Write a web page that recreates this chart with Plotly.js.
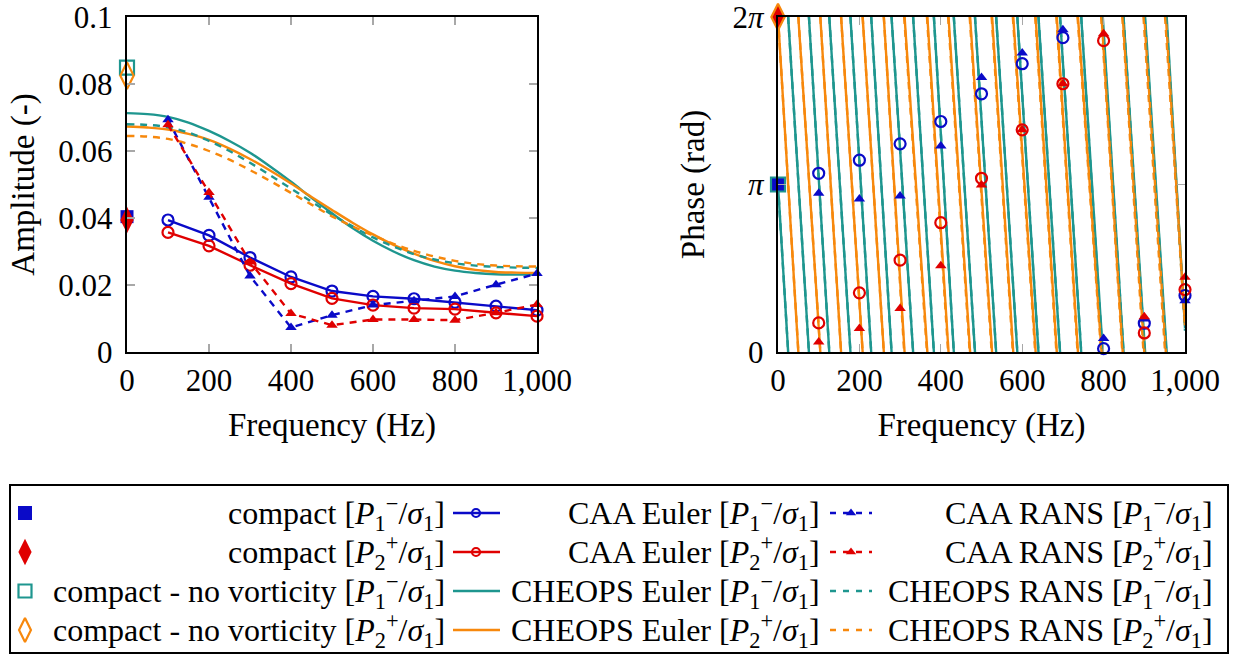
<!DOCTYPE html>
<html>
<head>
<meta charset="utf-8">
<script src="https://cdn.plot.ly/plotly-3.0.1.min.js"></script>
<style>
html,body{margin:0;padding:0;background:#fff;}
#plot{width:1234px;height:656px;}
</style>
</head>
<body>
<div id="plot"></div>
<script>
const TWO_PI = 2 * Math.PI;

// ---------- data ----------
const freqCompact = [0];
const ampCompactP1 = [0.0404];
const ampCompactP2 = [0.0394];
const ampNoVortP1 = [0.0849];
const ampNoVortP2 = [0.0825];
const phaseCompactP1 = [Math.PI];
const phaseCompactP2 = [TWO_PI];
const phaseNoVortP1 = [Math.PI];
const phaseNoVortP2 = [TWO_PI];

const freqCAA = [100, 200, 300, 400, 500, 600, 700, 800, 900, 1000];
const ampCAAEulerP1 = [0.0394, 0.0348, 0.0282, 0.0224, 0.0182, 0.0166, 0.0159, 0.0148, 0.0137, 0.0125];
const ampCAAEulerP2 = [0.0357, 0.0317, 0.0259, 0.0204, 0.0160, 0.0140, 0.0131, 0.0128, 0.0117, 0.0107];
const ampCAARansP1 = [0.0693, 0.0462, 0.0227, 0.0073, 0.0110, 0.0140, 0.0153, 0.0166, 0.0201, 0.0234];
const ampCAARansP2 = [0.0678, 0.0476, 0.0269, 0.0115, 0.0080, 0.0097, 0.0097, 0.0095, 0.0117, 0.0142];

const phaseCAAEulerP1 = [3.352, 3.597, 3.904, 4.323, 4.843, 5.407, 5.895, 0.063, 0.54, 1.06];
const phaseCAARansP1 = [2.976, 2.870, 2.926, 3.866, 5.150, 5.608, 6.046, 0.251, 0.62, 0.96];
const phaseCAAEulerP2 = [0.545, 1.109, 1.723, 2.425, 3.258, 4.167, 5.031, 5.840, 0.357, 1.17];
const phaseCAARansP2 = [0.188, 0.439, 0.815, 1.617, 3.133, 4.167, 5.031, 5.970, 0.660, 1.40];

const freqCHEOPS = [0, 50, 100, 150, 200, 250, 300, 350, 400, 450, 500, 550, 600, 650, 700, 750, 800, 850, 900, 950, 1000];
const ampCheopsEulerP1 = [0.0713, 0.0710, 0.0702, 0.0685, 0.0660, 0.0630, 0.0595, 0.0553, 0.0508, 0.0460, 0.0414, 0.0370, 0.0332, 0.0300, 0.0274, 0.0255, 0.0243, 0.0236, 0.0232, 0.0231, 0.0231];
const ampCheopsEulerP2 = [0.0673, 0.0670, 0.0664, 0.0651, 0.0633, 0.0607, 0.0576, 0.0541, 0.0503, 0.0463, 0.0424, 0.0386, 0.0351, 0.0320, 0.0294, 0.0272, 0.0256, 0.0245, 0.0239, 0.0237, 0.0236];
const ampCheopsRansP1 = [0.0680, 0.0678, 0.0671, 0.0655, 0.0630, 0.0600, 0.0565, 0.0527, 0.0488, 0.0449, 0.0410, 0.0375, 0.0342, 0.0315, 0.0292, 0.0276, 0.0265, 0.0258, 0.0254, 0.0252, 0.0251];
const ampCheopsRansP2 = [0.0645, 0.0643, 0.0636, 0.0621, 0.0600, 0.0574, 0.0543, 0.0510, 0.0475, 0.0440, 0.0405, 0.0375, 0.0348, 0.0323, 0.0302, 0.0285, 0.0272, 0.0263, 0.0258, 0.0256, 0.0255];

// wrapped phase: start phase at 0 Hz, frequencies where the phase wraps 0 -> 2pi, phase at 1000 Hz
const phaseStartCheopsP1 = Math.PI;
const phaseStartCheopsP2 = TWO_PI;
const wrapsCheopsEulerP1 = [25, 76, 126, 178, 229, 279, 332, 383, 432, 484, 536, 588, 640, 693, 745, 798, 849, 902, 955];
const wrapsCheopsEulerP2 = [50, 104, 155, 208, 260, 311, 367, 419, 472, 526, 578, 633, 685, 737, 795, 847, 900, 953];
const wrapsCheopsRansP1 = [25, 76, 126, 178, 229, 279, 332, 383, 432, 484, 536, 588, 640, 693, 745, 797, 849, 901, 954];
const wrapsCheopsRansP2 = [50, 104, 155, 208, 260, 310, 366, 418, 471, 525, 577, 632, 684, 736, 794, 846, 898, 951];
const phaseEndCheopsEulerP1 = 0.45, phaseEndCheopsEulerP2 = 0.50;
const phaseEndCheopsRansP1 = 0.40, phaseEndCheopsRansP2 = 0.45;

const xTickVals = [0, 200, 400, 600, 800, 1000];
const xTickText = ['0', '200', '400', '600', '800', '1,000'];
const ampTickVals = [0, 0.02, 0.04, 0.06, 0.08, 0.1];
const ampTickText = ['0\u2009', '0.02\u2009', '0.04\u2009', '0.06\u2009', '0.08\u2009', '0.1\u2009'];
const phaseTickVals = [0, Math.PI, TWO_PI];
const phaseTickText = ['0\u2009', '<i>π</i>\u2009', '2<i>π</i>\u2009'];

const legendLabels = [
  ['compact [<i>P</i><sub>1</sub><sup>−</sup>/<i>σ</i><sub>1</sub>]', 'CAA Euler [<i>P</i><sub>1</sub><sup>−</sup>/<i>σ</i><sub>1</sub>]', 'CAA RANS [<i>P</i><sub>1</sub><sup>−</sup>/<i>σ</i><sub>1</sub>]'],
  ['compact [<i>P</i><sub>2</sub><sup>+</sup>/<i>σ</i><sub>1</sub>]', 'CAA Euler [<i>P</i><sub>2</sub><sup>+</sup>/<i>σ</i><sub>1</sub>]', 'CAA RANS [<i>P</i><sub>2</sub><sup>+</sup>/<i>σ</i><sub>1</sub>]'],
  ['compact - no vorticity [<i>P</i><sub>1</sub><sup>−</sup>/<i>σ</i><sub>1</sub>]', 'CHEOPS Euler [<i>P</i><sub>1</sub><sup>−</sup>/<i>σ</i><sub>1</sub>]', 'CHEOPS RANS [<i>P</i><sub>1</sub><sup>−</sup>/<i>σ</i><sub>1</sub>]'],
  ['compact - no vorticity [<i>P</i><sub>2</sub><sup>+</sup>/<i>σ</i><sub>1</sub>]', 'CHEOPS Euler [<i>P</i><sub>2</sub><sup>+</sup>/<i>σ</i><sub>1</sub>]', 'CHEOPS RANS [<i>P</i><sub>2</sub><sup>+</sup>/<i>σ</i><sub>1</sub>]']
];

// ---------- styles ----------
const BLUE = '#0a0ac8', RED = '#e00000', TEAL = '#1e968f', ORANGE = '#f7880c';
const FONT = 'Liberation Serif';
const DASH = '7px,6px';
const LW = 2.4;

function sawtooth(start, wraps, end) {
  const x = [0], y = [start];
  wraps.forEach(w => { x.push(w, null, w); y.push(0, null, TWO_PI); });
  x.push(1000); y.push(end);
  return { x, y };
}

const traces = [];
function addPanel(xa, ya, d) {
  traces.push({ x: d.cEP1.x, y: d.cEP1.y, xaxis: xa, yaxis: ya, mode: 'lines', line: { color: TEAL, width: LW, shape: d.shape }, hoverinfo: 'skip' });
  traces.push({ x: d.cEP2.x, y: d.cEP2.y, xaxis: xa, yaxis: ya, mode: 'lines', line: { color: ORANGE, width: LW, shape: d.shape }, hoverinfo: 'skip' });
  traces.push({ x: d.cRP1.x, y: d.cRP1.y, xaxis: xa, yaxis: ya, mode: 'lines', line: { color: TEAL, width: LW, dash: DASH, shape: d.shape }, hoverinfo: 'skip' });
  traces.push({ x: d.cRP2.x, y: d.cRP2.y, xaxis: xa, yaxis: ya, mode: 'lines', line: { color: ORANGE, width: LW, dash: DASH, shape: d.shape }, hoverinfo: 'skip' });
  traces.push({ x: freqCAA, y: d.aEP1, xaxis: xa, yaxis: ya, mode: d.caaMode, line: { color: BLUE, width: LW }, marker: { symbol: 'circle-open', size: 11, color: BLUE, line: { width: 2.2, color: BLUE } }, cliponaxis: false });
  traces.push({ x: freqCAA, y: d.aEP2, xaxis: xa, yaxis: ya, mode: d.caaMode, line: { color: RED, width: LW }, marker: { symbol: 'circle-open', size: 11, color: RED, line: { width: 2.2, color: RED } }, cliponaxis: false });
  traces.push({ x: freqCAA, y: d.aRP1, xaxis: xa, yaxis: ya, mode: d.caaMode, line: { color: BLUE, width: LW, dash: DASH }, marker: { symbol: 'triangle-up', size: 10, color: BLUE }, cliponaxis: false });
  traces.push({ x: freqCAA, y: d.aRP2, xaxis: xa, yaxis: ya, mode: d.caaMode, line: { color: RED, width: LW, dash: DASH }, marker: { symbol: 'triangle-up', size: 10, color: RED }, cliponaxis: false });
  traces.push({ x: freqCompact, y: d.cp1, xaxis: xa, yaxis: ya, mode: 'markers', marker: { symbol: 'square', size: 13, color: BLUE }, cliponaxis: false });
  traces.push({ x: freqCompact, y: d.cp2, xaxis: xa, yaxis: ya, mode: 'markers', marker: { symbol: 'diamond-tall', size: 19, color: RED }, cliponaxis: false });
  traces.push({ x: freqCompact, y: d.nv1, xaxis: xa, yaxis: ya, mode: 'markers', marker: { symbol: 'square-open', size: 14, color: TEAL, line: { width: 2.2, color: TEAL } }, cliponaxis: false });
  traces.push({ x: freqCompact, y: d.nv2, xaxis: xa, yaxis: ya, mode: 'markers', marker: { symbol: 'diamond-tall-open', size: 19, color: ORANGE, line: { width: 2.2, color: ORANGE } }, cliponaxis: false });
}

addPanel('x', 'y', {
  shape: 'spline', caaMode: 'lines+markers',
  cEP1: { x: freqCHEOPS, y: ampCheopsEulerP1 }, cEP2: { x: freqCHEOPS, y: ampCheopsEulerP2 },
  cRP1: { x: freqCHEOPS, y: ampCheopsRansP1 }, cRP2: { x: freqCHEOPS, y: ampCheopsRansP2 },
  aEP1: ampCAAEulerP1, aEP2: ampCAAEulerP2, aRP1: ampCAARansP1, aRP2: ampCAARansP2,
  cp1: ampCompactP1, cp2: ampCompactP2, nv1: ampNoVortP1, nv2: ampNoVortP2
});
addPanel('x2', 'y2', {
  shape: 'linear', caaMode: 'markers',
  cEP1: sawtooth(phaseStartCheopsP1, wrapsCheopsEulerP1, phaseEndCheopsEulerP1),
  cEP2: sawtooth(phaseStartCheopsP2, wrapsCheopsEulerP2, phaseEndCheopsEulerP2),
  cRP1: sawtooth(phaseStartCheopsP1, wrapsCheopsRansP1, phaseEndCheopsRansP1),
  cRP2: sawtooth(phaseStartCheopsP2, wrapsCheopsRansP2, phaseEndCheopsRansP2),
  aEP1: phaseCAAEulerP1, aEP2: phaseCAAEulerP2, aRP1: phaseCAARansP1, aRP2: phaseCAARansP2,
  cp1: phaseCompactP1, cp2: phaseCompactP2, nv1: phaseNoVortP1, nv2: phaseNoVortP2
});

// ---------- legend (drawn on a hidden pixel-space axis) ----------
const rowY = [513, 552, 591, 630];
const textRight = [447, 822, 1215];
const shapes = [];
const annotations = [];
shapes.push({ type: 'rect', xref: 'x3', yref: 'y3', x0: 10, x1: 1228, y0: 485, y1: 653, line: { color: '#000', width: 2 } });
legendLabels.forEach((row, r) => row.forEach((t, c) => {
  annotations.push({ xref: 'x3', yref: 'y3', x: textRight[c], y: rowY[r], text: t, showarrow: false, xanchor: 'right', yanchor: 'middle', font: { family: FONT, size: 32, color: '#000' } });
}));
const legColors2 = [BLUE, RED, TEAL, ORANGE];
legColors2.forEach((col, r) => {
  shapes.push({ type: 'line', xref: 'x3', yref: 'y3', x0: 453, x1: 500, y0: rowY[r], y1: rowY[r], line: { color: col, width: LW } });
  shapes.push({ type: 'line', xref: 'x3', yref: 'y3', x0: 830, x1: 872, y0: rowY[r], y1: rowY[r], line: { color: col, width: LW, dash: '6px,7px' } });
});
traces.push({ x: [476, 476], y: [rowY[0], rowY[1]], xaxis: 'x3', yaxis: 'y3', mode: 'markers', marker: { symbol: 'circle-open', size: 8, color: [BLUE, RED], line: { width: 2.2, color: [BLUE, RED] } } });
traces.push({ x: [851, 851], y: [rowY[0], rowY[1]], xaxis: 'x3', yaxis: 'y3', mode: 'markers', marker: { symbol: 'triangle-up', size: 9, color: [BLUE, RED] } });
traces.push({ x: [25], y: [rowY[0]], xaxis: 'x3', yaxis: 'y3', mode: 'markers', marker: { symbol: 'square', size: 14, color: BLUE } });
traces.push({ x: [25], y: [rowY[1]], xaxis: 'x3', yaxis: 'y3', mode: 'markers', marker: { symbol: 'diamond-tall', size: 19, color: RED } });
traces.push({ x: [25], y: [rowY[2]], xaxis: 'x3', yaxis: 'y3', mode: 'markers', marker: { symbol: 'square-open', size: 13, color: TEAL, line: { width: 2.2, color: TEAL } } });
traces.push({ x: [25], y: [rowY[3]], xaxis: 'x3', yaxis: 'y3', mode: 'markers', marker: { symbol: 'diamond-tall-open', size: 17, color: ORANGE, line: { width: 2.2, color: ORANGE } } });

// ---------- layout ----------
const W = 1234, H = 656;
const tickFont = { family: FONT, size: 31, color: '#000' };
const titleFont = { family: FONT, size: 33, color: '#000' };
const axisCommon = {
  showgrid: false, zeroline: false, showline: true, linecolor: '#000', linewidth: 2, mirror: 'ticks',
  ticks: 'inside', ticklen: 8, tickwidth: 1.3, tickcolor: '#a8a8a8', ticklabeloverflow: 'allow', tickfont: tickFont
};
const layout = {
  width: W, height: H, margin: { l: 0, r: 0, t: 0, b: 0 },
  paper_bgcolor: '#fff', plot_bgcolor: 'rgba(0,0,0,0)', showlegend: false,
  font: { family: FONT, color: '#000' },
  xaxis: Object.assign({}, axisCommon, { domain: [127 / W, 537 / W], range: [0, 1000], tickvals: xTickVals, ticktext: xTickText, anchor: 'y',
    title: { text: 'Frequency (Hz)', font: titleFont, standoff: 16 } }),
  yaxis: Object.assign({}, axisCommon, { domain: [1 - 352 / H, 1 - 17 / H], range: [0, 0.1], tickvals: ampTickVals, ticktext: ampTickText, anchor: 'x',
    title: { text: 'Amplitude (-)', font: titleFont, standoff: 14 } }),
  xaxis2: Object.assign({}, axisCommon, { domain: [778 / W, 1185 / W], range: [0, 1000], tickvals: xTickVals, ticktext: xTickText, anchor: 'y2',
    title: { text: 'Frequency (Hz)', font: titleFont, standoff: 16 } }),
  yaxis2: Object.assign({}, axisCommon, { domain: [1 - 352 / H, 1 - 17 / H], range: [0, TWO_PI], tickvals: phaseTickVals, ticktext: phaseTickText, anchor: 'x2',
    title: { text: 'Phase (rad)', font: titleFont, standoff: 18 } }),
  xaxis3: { domain: [0, 1], range: [0, W], visible: false, anchor: 'y3', fixedrange: true },
  yaxis3: { domain: [0, 1], range: [H, 0], visible: false, anchor: 'x3', fixedrange: true },
  shapes: shapes,
  annotations: annotations
};

Plotly.newPlot('plot', traces, layout, { staticPlot: true, displayModeBar: false });
</script>
</body>
</html>
